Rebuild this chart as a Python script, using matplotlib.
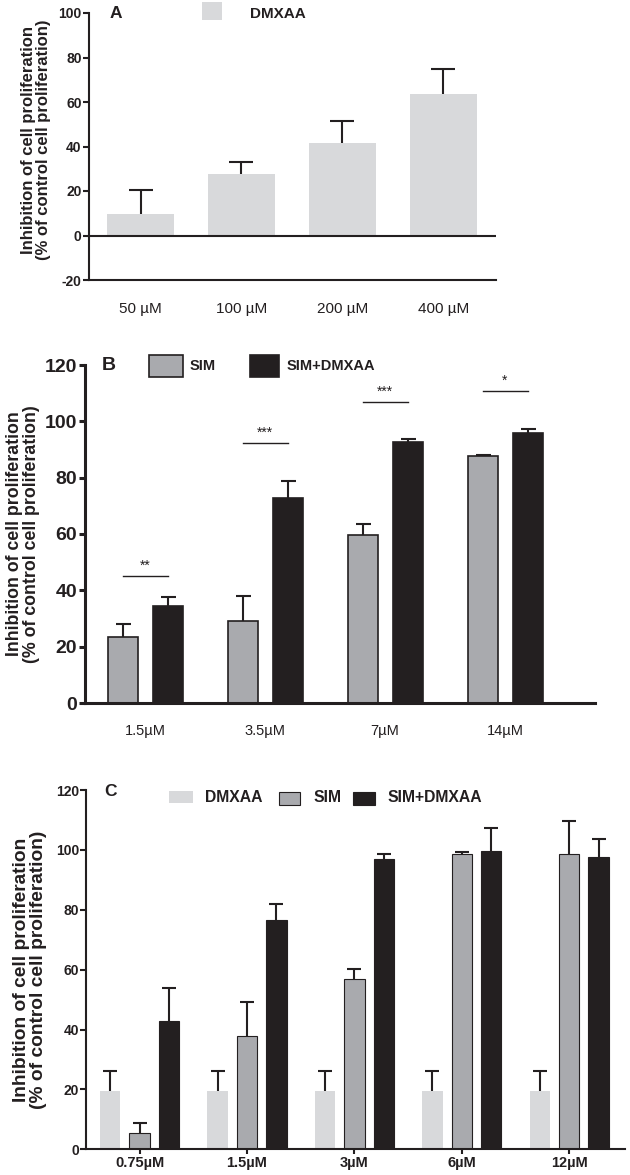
import matplotlib
matplotlib.use('Agg')
import matplotlib.pyplot as plt
from matplotlib.patches import Rectangle
import numpy as np

plt.rcParams['font.family'] = ['Liberation Sans', 'DejaVu Sans']
plt.rcParams['axes.unicode_minus'] = False

# ---------------- data ----------------
# Panel A
a_labels = ['50 µM', '100 µM', '200 µM', '400 µM']
a_mean = [9.8, 27.7, 41.5, 63.4]
a_err = [10.5, 5.5, 9.9, 11.5]

# Panel B
b_labels = ['1.5µM', '3.5µM', '7µM', '14µM']
b_sim = [23.5, 29.1, 59.6, 87.8]
b_sim_err = [4.5, 8.9, 3.8, 0.4]
b_combo = [34.4, 72.7, 92.5, 96.0]
b_combo_err = [3.3, 6.2, 1.2, 1.2]
b_sig = ['**', '***', '***', '*']
b_sig_y = [45.1, 92.4, 106.9, 110.8]

# Panel C
c_labels = ['0.75µM', '1.5µM', '3µM', '6µM', '12µM']
c_dmxaa = [19.5, 19.5, 19.5, 19.5, 19.5]
c_dmxaa_err = [6.6, 6.6, 6.6, 6.6, 6.6]
c_sim = [5.3, 37.8, 56.8, 98.6, 98.5]
c_sim_err = [3.6, 11.5, 3.3, 0.6, 11.3]
c_combo = [43.0, 76.5, 96.9, 99.6, 97.5]
c_combo_err = [11.0, 5.3, 1.6, 7.6, 6.0]

ylabel = 'Inhibition of cell proliferation\n(% of control cell proliferation)'

LIGHT = '#d8d9db'
GREY = '#a9aaae'
DARK = '#231f20'

W, H = 630, 1175
fig = plt.figure(figsize=(W / 100, H / 100), dpi=100)


def add_ax(left, right, top, bottom):
    return fig.add_axes([left / W, 1 - bottom / H, (right - left) / W, (bottom - top) / H])


def fx(px):
    return px / W


def fy(py):
    return 1 - py / H


def rect(x0, x1, y0, y1, fc, ec='none', lw=0):
    fig.add_artist(Rectangle((fx(x0), fy(y1)), fx(x1) - fx(x0), fy(y0) - fy(y1),
                             facecolor=fc, edgecolor=ec, linewidth=lw,
                             transform=fig.transFigure))


def up_err(ax, x, mean, err, capsize):
    """One-sided (upward) error bars with a cap only at the top."""
    cont = ax.errorbar(x, mean, yerr=[np.zeros(len(err)), err], fmt='none', ecolor=DARK,
                       elinewidth=1.5, capsize=capsize, capthick=1.5, zorder=3)
    caps = cont[1]
    m = np.asarray(mean, dtype=float)
    for c in caps:
        if np.allclose(np.asarray(c.get_ydata(), dtype=float), m):
            c.set_visible(False)


def style(ax, lw, ticklen, tickfs):
    for s in ['top', 'right']:
        ax.spines[s].set_visible(False)
    for s in ['left', 'bottom']:
        ax.spines[s].set_linewidth(lw)
        ax.spines[s].set_color(DARK)
    ax.tick_params(axis='y', direction='out', length=ticklen, width=lw, color=DARK,
                   labelsize=tickfs, pad=1)
    for t in ax.get_yticklabels():
        t.set_fontweight('bold')
        t.set_color(DARK)


# ---------------- Panel A ----------------
axA = add_ax(89, 496, 13, 280)
xa = np.arange(len(a_mean))
axA.bar(xa, a_mean, width=0.66, color=LIGHT, edgecolor='none', zorder=2)
up_err(axA, xa, a_mean, a_err, 8.3)
axA.axhline(0, color=DARK, lw=1.5, zorder=4)
axA.set_xlim(-0.51, 3.52)
axA.set_ylim(-20, 100)
axA.set_yticks(np.arange(-20, 101, 20))
style(axA, 1.5, 4.3, 10)
axA.set_xticks(xa)
axA.set_xticklabels(a_labels, fontsize=11, color=DARK)
axA.tick_params(axis='x', length=0, pad=16)
fig.text(fx(110), fy(14), 'A', fontsize=12.5, fontweight='bold', color=DARK, va='center')
rect(202, 222, 2, 20, LIGHT)
fig.text(fx(250), fy(14), 'DMXAA', fontsize=11, fontweight='bold', color=DARK, va='center')
fig.text(fx(36), fy(140), ylabel, rotation=90, fontsize=12, fontweight='bold',
         color=DARK, ha='center', va='center', linespacing=1.05)

# ---------------- Panel B ----------------
axB = add_ax(85, 595, 365, 703)
xb = np.arange(len(b_sim))
off_b = 0.1875
axB.bar(xb - off_b, b_sim, width=0.25, color=GREY, edgecolor=DARK, linewidth=1.2, zorder=2)
axB.bar(xb + off_b, b_combo, width=0.25, color=DARK, edgecolor=DARK, linewidth=1.2, zorder=2)
up_err(axB, xb - off_b, b_sim, b_sim_err, 5.4)
up_err(axB, xb + off_b, b_combo, b_combo_err, 5.4)
for i, (s, y) in enumerate(zip(b_sig, b_sig_y)):
    axB.plot([i - off_b, i + off_b], [y, y], color=DARK, lw=1.0)
    axB.text(i, y + 1.0, s, ha='center', va='bottom', fontsize=10, color=DARK)
axB.set_xlim(-0.5, 3.75)
axB.set_ylim(0, 120)
axB.set_yticks(np.arange(0, 121, 20))
style(axB, 2.2, 4.5, 14)
axB.set_xticks(xb)
axB.set_xticklabels(b_labels, fontsize=10.5, color=DARK)
axB.tick_params(axis='x', length=0, pad=15)
fig.text(fx(102), fy(365), 'B', fontsize=14, fontweight='bold', color=DARK, va='center')
rect(149, 183, 355, 377, GREY, DARK, 1.2)
fig.text(fx(190), fy(366), 'SIM', fontsize=10.5, fontweight='bold', color=DARK, va='center')
rect(250, 279, 355, 377, DARK, DARK, 1.2)
fig.text(fx(287), fy(366), 'SIM+DMXAA', fontsize=10.5, fontweight='bold', color=DARK,
         va='center')
fig.text(fx(23), fy(534), ylabel, rotation=90, fontsize=12.8, fontweight='bold',
         color=DARK, ha='center', va='center', linespacing=1.05)

# ---------------- Panel C ----------------
axC = add_ax(86, 625, 790, 1149.3)
xc = np.arange(len(c_sim))
off_c = 0.274
wc = 0.19
axC.bar(xc - off_c, c_dmxaa, width=wc, color=LIGHT, edgecolor='none', zorder=2)
axC.bar(xc, c_sim, width=wc, color=GREY, edgecolor=DARK, linewidth=0.8, zorder=2)
axC.bar(xc + off_c, c_combo, width=wc, color=DARK, edgecolor=DARK, linewidth=0.8, zorder=2)
up_err(axC, xc - off_c, c_dmxaa, c_dmxaa_err, 4.8)
up_err(axC, xc, c_sim, c_sim_err, 4.8)
up_err(axC, xc + off_c, c_combo, c_combo_err, 4.8)
axC.set_xlim(-0.5, 4.52)
axC.set_ylim(0, 120)
axC.set_yticks(np.arange(0, 121, 20))
style(axC, 1.5, 4, 10)
axC.set_xticks(xc)
axC.set_xticklabels(c_labels, fontsize=10.5, fontweight='bold', color=DARK)
axC.tick_params(axis='x', direction='out', length=3.5, width=1.5, color=DARK, pad=1)
fig.text(fx(104), fy(792), 'C', fontsize=12.5, fontweight='bold', color=DARK, va='center')
rect(169, 193, 791, 803, LIGHT)
fig.text(fx(205), fy(797), 'DMXAA', fontsize=11.3, fontweight='bold', color=DARK, va='center')
rect(279, 300, 792, 805, GREY, DARK, 0.8)
fig.text(fx(313), fy(797), 'SIM', fontsize=11.3, fontweight='bold', color=DARK, va='center')
rect(353, 375, 792, 805, DARK, DARK, 0.8)
fig.text(fx(387), fy(797), 'SIM+DMXAA', fontsize=11.3, fontweight='bold', color=DARK,
         va='center')
fig.text(fx(30), fy(970), ylabel, rotation=90, fontsize=13.8, fontweight='bold',
         color=DARK, ha='center', va='center', linespacing=1.05)

fig.savefig('out.png', dpi=100)
